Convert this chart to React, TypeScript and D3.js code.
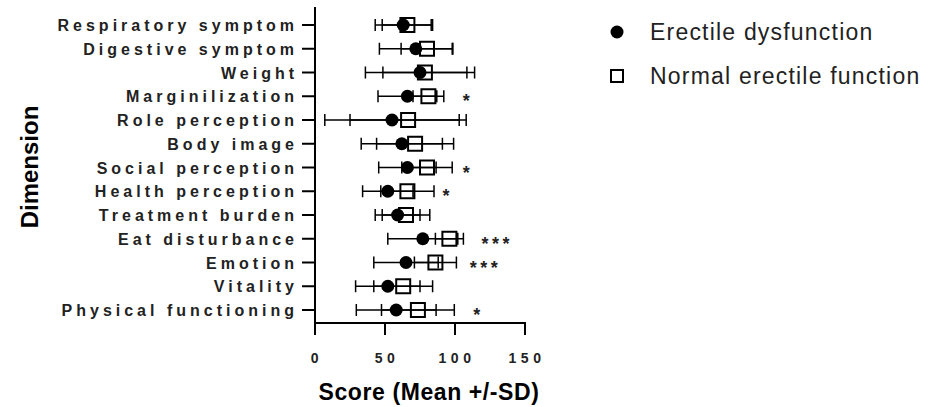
import React, { useEffect, useRef } from 'react';
import * as d3 from 'd3';

const categories = [
  'Respiratory symptom',
  'Digestive symptom',
  'Weight',
  'Marginilization',
  'Role perception',
  'Body image',
  'Social perception',
  'Health perception',
  'Treatment burden',
  'Eat disturbance',
  'Emotion',
  'Vitality',
  'Physical functioning',
];

const edMean = [63, 72, 75, 66, 55, 62, 66, 52, 59, 77, 65, 52, 58];
const edSD = [20, 26, 39, 21, 48, 29, 20.5, 18, 16, 25, 23, 23, 28.5];
const normalMean = [66, 80, 78.5, 81, 66.5, 71.5, 80, 66, 65, 96, 86, 63, 73.5];
const normalSD = [18, 18.5, 30, 11, 41.5, 27.5, 18, 19, 17, 10, 15, 21, 26];

const stars = ['', '', '', '*', '', '', '*', '*', '', '***', '***', '', '*'];
const starAt = [0, 0, 0, 105.5, 0, 0, 105.5, 91, 0, 119, 110.5, 0, 113];

const xTicks = [0, 50, 100, 150];
const legendLabels = ['Erectile dysfunction', 'Normal erectile function'];

const FONT = "'Liberation Sans', Arial, sans-serif";

const App = () => {
  const svgRef = useRef<SVGSVGElement>(null);
  const width = 937;
  const height = 407;

  useEffect(() => {
    const svg = d3.select(svgRef.current);
    svg.selectAll('*').remove();

    const x = d3.scaleLinear().domain([0, 150]).range([315, 525]);
    const y = d3.scalePoint<string>().domain(categories).range([25, 310]);
    const axisY = 323;
    const axisTop = 7;

    const rows = categories.map((c, i) => ({
      c,
      ed: [edMean[i], edSD[i]],
      nm: [normalMean[i], normalSD[i]],
      star: stars[i],
      starX: starAt[i],
    }));

    // axes
    svg.append('line')
      .attr('x1', x(0)).attr('x2', x(0))
      .attr('y1', axisTop).attr('y2', axisY)
      .attr('stroke', '#000').attr('stroke-width', 2);
    svg.append('line')
      .attr('x1', x(0) - 1).attr('x2', x(150) + 1)
      .attr('y1', axisY).attr('y2', axisY)
      .attr('stroke', '#000').attr('stroke-width', 2);

    svg.selectAll('.ytick')
      .data(categories)
      .join('line')
      .attr('x1', x(0) - 13).attr('x2', x(0))
      .attr('y1', d => y(d)!).attr('y2', d => y(d)!)
      .attr('stroke', '#000').attr('stroke-width', 2);

    svg.selectAll('.ylab')
      .data(categories)
      .join('text')
      .attr('x', x(0) - 17)
      .attr('y', d => y(d)! + 6)
      .attr('text-anchor', 'end')
      .attr('font-family', FONT)
      .attr('font-weight', 'bold')
      .attr('font-size', 16)
      .attr('letter-spacing', 4)
      .attr('fill', '#222')
      .text(d => d);

    svg.selectAll('.xtick')
      .data(xTicks)
      .join('line')
      .attr('x1', d => x(d)).attr('x2', d => x(d))
      .attr('y1', axisY).attr('y2', axisY + 12)
      .attr('stroke', '#000').attr('stroke-width', 2);

    svg.selectAll('.xlab')
      .data(xTicks)
      .join('text')
      .attr('x', d => x(d) + 2)
      .attr('y', 363)
      .attr('text-anchor', 'middle')
      .attr('font-family', FONT)
      .attr('font-weight', 'bold')
      .attr('font-size', 14)
      .attr('letter-spacing', 4.5)
      .attr('fill', '#222')
      .text(d => d);

    svg.append('text')
      .attr('x', 429).attr('y', 400)
      .attr('text-anchor', 'middle')
      .attr('font-family', FONT)
      .attr('font-weight', 'bold')
      .attr('font-size', 23)
      .attr('letter-spacing', 0.6)
      .text('Score (Mean +/-SD)');

    svg.append('text')
      .attr('transform', 'translate(38, 167) rotate(-90)')
      .attr('text-anchor', 'middle')
      .attr('font-family', FONT)
      .attr('font-weight', 'bold')
      .attr('font-size', 24)
      .text('Dimension');

    // error bars
    const bars = (key: 'ed' | 'nm') => {
      const g = svg.append('g').attr('stroke', '#000').attr('stroke-width', 1.5);
      g.selectAll('line.h')
        .data(rows)
        .join('line')
        .attr('x1', d => x(d[key][0] - d[key][1]))
        .attr('x2', d => x(d[key][0] + d[key][1]))
        .attr('y1', d => y(d.c)!).attr('y2', d => y(d.c)!);
      ['-', '+'].forEach(s => {
        g.selectAll('line.c' + (s === '-' ? 'l' : 'r'))
          .data(rows)
          .join('line')
          .attr('x1', d => x(d[key][0] + (s === '-' ? -1 : 1) * d[key][1]))
          .attr('x2', d => x(d[key][0] + (s === '-' ? -1 : 1) * d[key][1]))
          .attr('y1', d => y(d.c)! - 6).attr('y2', d => y(d.c)! + 6);
      });
    };
    bars('ed');
    bars('nm');

    svg.selectAll('.dot')
      .data(rows)
      .join('circle')
      .attr('cx', d => x(d.ed[0]))
      .attr('cy', d => y(d.c)!)
      .attr('r', 6.5)
      .attr('fill', '#000');

    svg.append('g').selectAll('rect')
      .data(rows)
      .join('rect')
      .attr('x', d => x(d.nm[0]) - 7)
      .attr('y', d => y(d.c)! - 7)
      .attr('width', 14).attr('height', 14)
      .attr('fill', 'none')
      .attr('stroke', '#000')
      .attr('stroke-width', 2);

    svg.append('g').selectAll('text')
      .data(rows.filter(r => r.star))
      .join('text')
      .attr('x', d => x(d.starX))
      .attr('y', d => y(d.c)! + 11)
      .attr('font-family', FONT)
      .attr('font-weight', 'bold')
      .attr('font-size', 18)
      .attr('letter-spacing', 3.5)
      .attr('fill', '#222')
      .text(d => d.star);

    // legend
    const lg = svg.append('g');
    lg.append('circle').attr('cx', 617).attr('cy', 32).attr('r', 6.5).attr('fill', '#000');
    lg.append('rect').attr('x', 611).attr('y', 70).attr('width', 12).attr('height', 12)
      .attr('fill', 'none').attr('stroke', '#000').attr('stroke-width', 2);
    lg.selectAll('text')
      .data(legendLabels)
      .join('text')
      .attr('x', 650)
      .attr('y', (d, i) => 40 + i * 44)
      .attr('font-family', FONT)
      .attr('font-size', 23)
      .attr('letter-spacing', 1.2)
      .attr('fill', '#222')
      .text(d => d);
  }, []);

  return (
    <svg
      ref={svgRef}
      width={width}
      height={height}
      style={{ position: 'absolute', left: 0, top: 0, background: '#fff' }}
    ></svg>
  );
};

export default App;
